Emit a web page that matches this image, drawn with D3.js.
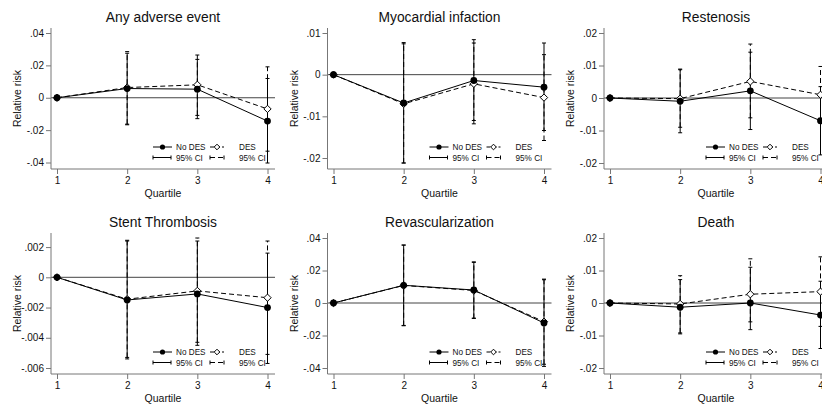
<!DOCTYPE html>
<html>
<head>
<meta charset="utf-8">
<script src="https://cdn.jsdelivr.net/npm/d3@7"></script>
<style>
  html, body { margin: 0; padding: 0; background: #fff; }
  svg { display: block; font-family: "Liberation Sans", Arial, sans-serif; }
</style>
</head>
<body>
<svg id="chart" width="822" height="410"></svg>
<script>
// Outcomes, one small multiple each
const titles = ["Any adverse event", "Myocardial infaction", "Restenosis",
                "Stent Thrombosis", "Revascularization", "Death"];
const quartiles = [1, 2, 3, 4];

// Relative risk by quartile (quartile 1 is the reference)
const noDesRisk = [
  [0, 0.0057, 0.0053, -0.0144],
  [0, -0.0068, -0.0014, -0.0030],
  [0, -0.0010, 0.0022, -0.0070],
  [0, -0.0015, -0.0011, -0.0020],
  [0, 0.0109, 0.0080, -0.0123],
  [0, -0.0013, 0.0000, -0.0037]
];
const noDesLower = [
  [0, -0.0167, -0.0129, -0.0403],
  [0, -0.0212, -0.0110, -0.0134],
  [0, -0.0107, -0.0097, -0.0175],
  [0, -0.0054, -0.0045, -0.0057],
  [0, -0.0138, -0.0093, -0.0390],
  [0, -0.0095, -0.0082, -0.0140]
];
const noDesUpper = [
  [0, 0.0275, 0.0237, 0.0119],
  [0, 0.0077, 0.0084, 0.0076],
  [0, 0.0087, 0.0141, 0.0035],
  [0, 0.0024, 0.0024, 0.0016],
  [0, 0.0357, 0.0253, 0.0143],
  [0, 0.0072, 0.0110, 0.0067]
];
const desRisk = [
  [0, 0.0063, 0.0080, -0.0069],
  [0, -0.0070, -0.0022, -0.0055],
  [0, -0.0002, 0.0051, 0.0010],
  [0, -0.00145, -0.0009, -0.00135],
  [0, 0.0108, 0.0077, -0.0115],
  [0, -0.0003, 0.0027, 0.0035]
];
const desLower = [
  [0, -0.0163, -0.0109, -0.0330],
  [0, -0.0212, -0.0118, -0.0158],
  [0, -0.0090, -0.0061, -0.0077],
  [0, -0.0053, -0.0043, -0.0051],
  [0, -0.0140, -0.0095, -0.0377],
  [0, -0.0092, -0.0058, -0.0072]
];
const desUpper = [
  [0, 0.0285, 0.0264, 0.0191],
  [0, 0.0074, 0.0076, 0.0048],
  [0, 0.0089, 0.0166, 0.0097],
  [0, 0.00245, 0.0026, 0.0024],
  [0, 0.0356, 0.0250, 0.0147],
  [0, 0.0084, 0.0136, 0.0142]
];

// Y-axis ticks and their labels per panel
const yTicks = [
  [-0.04, -0.02, 0, 0.02, 0.04],
  [-0.02, -0.01, 0, 0.01],
  [-0.02, -0.01, 0, 0.01, 0.02],
  [-0.006, -0.004, -0.002, 0, 0.002],
  [-0.04, -0.02, 0, 0.02, 0.04],
  [-0.02, -0.01, 0, 0.01, 0.02]
];
const yTickLabels = [
  ["-.04", "-.02", "0", ".02", ".04"],
  ["-.02", "-.01", "0", ".01"],
  ["-.02", "-.01", "0", ".01", ".02"],
  ["-.006", "-.004", "-.002", "0", ".002"],
  ["-.04", "-.02", "0", ".02", ".04"],
  ["-.02", "-.01", "0", ".01", ".02"]
];
const legendLabels = ["No DES", "DES", "95% CI", "95% CI"];

const svg = d3.select("#chart");
const panelW = 276.5, panelH = 205;
const axisLeft = 51, plotRight = 275, axisTop = 28, axisBottom = 169;
const dash = "5,3";
const ink = "#000";

const x = d3.scaleLinear().domain([1, 4]).range([57, 267.5]);

svg.append("defs").append("clipPath").attr("id", "panelClip")
  .append("rect").attr("x", 0).attr("y", 0).attr("width", 276).attr("height", panelH);

titles.forEach((title, i) => {
  const col = i % 3, row = Math.floor(i / 3);
  const g = svg.append("g")
    .attr("transform", `translate(${col * panelW},${row * panelH})`)
    .attr("clip-path", "url(#panelClip)");

  const allVals = yTicks[i].concat(noDesLower[i], noDesUpper[i], desLower[i], desUpper[i]);
  const y = d3.scaleLinear().domain(d3.extent(allVals)).range([163, 33]);

  // title
  g.append("text").attr("x", (axisLeft + plotRight) / 2).attr("y", 22)
    .attr("text-anchor", "middle").attr("font-size", 13.8).attr("fill", "#111").text(title);

  // reference line at zero
  g.append("line").attr("x1", axisLeft).attr("x2", plotRight)
    .attr("y1", y(0)).attr("y2", y(0)).attr("stroke", "#444").attr("stroke-width", 1);

  // y axis
  const yAxis = d3.axisLeft(y).tickValues(yTicks[i])
    .tickFormat((d, k) => yTickLabels[i][k]).tickSize(5).tickSizeOuter(0);
  const ya = g.append("g").attr("transform", `translate(${axisLeft},0)`).call(yAxis);
  ya.select(".domain").remove();
  ya.append("line").attr("x1", 0).attr("x2", 0).attr("y1", axisTop).attr("y2", axisBottom)
    .attr("stroke", "#777");
  ya.selectAll(".tick line").attr("stroke", "#777");
  ya.selectAll(".tick text").attr("font-size", 10).attr("fill", "#111")
    .attr("font-family", "Liberation Sans, Arial, sans-serif").attr("x", -7);

  // x axis
  const xAxis = d3.axisBottom(x).tickValues(quartiles).tickFormat(d3.format("d"))
    .tickSize(5).tickSizeOuter(0);
  const xa = g.append("g").attr("transform", `translate(0,${axisBottom})`).call(xAxis);
  xa.select(".domain").remove();
  xa.append("line").attr("x1", axisLeft).attr("x2", plotRight).attr("y1", 0).attr("y2", 0)
    .attr("stroke", "#777");
  xa.selectAll(".tick line").attr("stroke", "#777");
  xa.selectAll(".tick text").attr("font-size", 10).attr("fill", "#111")
    .attr("font-family", "Liberation Sans, Arial, sans-serif").attr("y", 8);

  // axis titles
  g.append("text").attr("x", (axisLeft + plotRight) / 2).attr("y", 197)
    .attr("text-anchor", "middle").attr("font-size", 10.5).attr("fill", "#111").text("Quartile");
  g.append("text").attr("transform", `translate(21,${(axisTop + axisBottom) / 2}) rotate(-90)`)
    .attr("text-anchor", "middle").attr("font-size", 10.5).attr("fill", "#111").text("Relative risk");

  // confidence intervals (skip the reference quartile)
  const capHalf = 2;
  function drawCI(lower, upper, dashed) {
    const idx = quartiles.map((q, k) => k).filter(k => k > 0);
    const ci = g.append("g").attr("stroke", ink).attr("stroke-width", 1).attr("fill", "none");
    idx.forEach(k => {
      const cx = x(quartiles[k]);
      ci.append("line").attr("x1", cx).attr("x2", cx)
        .attr("y1", y(lower[k])).attr("y2", y(upper[k]))
        .attr("stroke-dasharray", dashed ? dash : null);
      [lower[k], upper[k]].forEach(v => {
        ci.append("line").attr("x1", cx - capHalf).attr("x2", cx + capHalf)
          .attr("y1", y(v)).attr("y2", y(v));
      });
    });
  }
  drawCI(noDesLower[i], noDesUpper[i], false);
  drawCI(desLower[i], desUpper[i], true);

  // connected estimates
  const line = d3.line().x((d, k) => x(quartiles[k])).y(d => y(d));
  g.append("path").datum(noDesRisk[i]).attr("d", line)
    .attr("fill", "none").attr("stroke", ink).attr("stroke-width", 1);
  g.append("path").datum(desRisk[i]).attr("d", line)
    .attr("fill", "none").attr("stroke", ink).attr("stroke-width", 1)
    .attr("stroke-dasharray", dash);

  const diamond = d3.symbol().type(d3.symbolDiamond2).size(34);
  g.selectAll(".des").data(desRisk[i]).join("path").attr("class", "des")
    .attr("transform", (d, k) => `translate(${x(quartiles[k])},${y(d)})`)
    .attr("d", diamond).attr("fill", "#fff").attr("stroke", ink).attr("stroke-width", 1);
  g.selectAll(".nodes").data(noDesRisk[i]).join("circle").attr("class", "nodes")
    .attr("cx", (d, k) => x(quartiles[k])).attr("cy", d => y(d)).attr("r", 3.4)
    .attr("fill", ink);

  // legend
  const lg = g.append("g").attr("font-size", 8.2).attr("fill", "#111");
  const r1 = 147, r2 = 157.5;
  // No DES
  lg.append("line").attr("x1", 153).attr("x2", 172).attr("y1", r1).attr("y2", r1).attr("stroke", ink);
  lg.append("circle").attr("cx", 162.5).attr("cy", r1).attr("r", 2.6).attr("fill", ink);
  lg.append("text").attr("x", 176).attr("y", r1 + 3).text(legendLabels[0]);
  // DES
  lg.append("line").attr("x1", 210).attr("x2", 224).attr("y1", r1).attr("y2", r1)
    .attr("stroke", ink).attr("stroke-dasharray", "4,2");
  lg.append("path").attr("transform", `translate(217,${r1})`)
    .attr("d", d3.symbol().type(d3.symbolDiamond2).size(20))
    .attr("fill", "#fff").attr("stroke", ink);
  lg.append("text").attr("x", 239).attr("y", r1 + 3).text(legendLabels[1]);
  // CI, solid
  lg.append("line").attr("x1", 153).attr("x2", 171).attr("y1", r2).attr("y2", r2).attr("stroke", ink);
  [153, 171].forEach(px => lg.append("line").attr("x1", px).attr("x2", px)
    .attr("y1", r2 - 2).attr("y2", r2 + 2).attr("stroke", ink));
  lg.append("text").attr("x", 176).attr("y", r2 + 3).text(legendLabels[2]);
  // CI, dashed
  lg.append("line").attr("x1", 210).attr("x2", 224).attr("y1", r2).attr("y2", r2)
    .attr("stroke", ink).attr("stroke-dasharray", "5,3");
  [210, 224].forEach(px => lg.append("line").attr("x1", px).attr("x2", px)
    .attr("y1", r2 - 2).attr("y2", r2 + 2).attr("stroke", ink));
  lg.append("text").attr("x", 239).attr("y", r2 + 3).text(legendLabels[3]);
});
</script>
</body>
</html>
